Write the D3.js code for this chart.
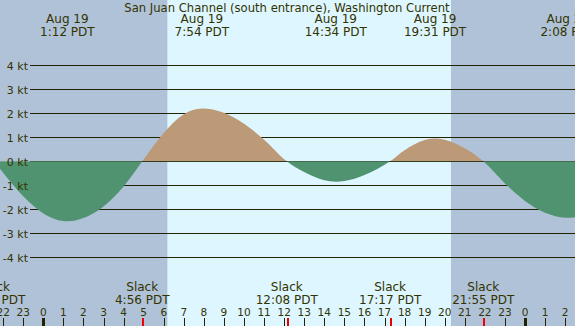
<!DOCTYPE html>
<html>
<head>
<meta charset="utf-8">
<script type="text/javascript" src="https://d3js.org/d3.v7.min.js"></script>
<style>
  body { margin: 0; }
  text { font-family: "DejaVu Sans", sans-serif; fill: #333300; }
</style>
</head>
<body>
<div class="viz"></div>
<script type="text/javascript">

    var title = 'San Juan Channel (south entrance), Washington Current';

    // current readings, hours from midnight Aug 19 (PDT) and knots
    var hours = [-3, -2.45, -2, -1, 0, 1, 1.2, 2, 3, 4, 4.93, 6, 7, 7.9, 9, 10, 11, 12.13, 13, 14, 14.57, 15, 16,
                 17.28, 18, 19, 19.52, 20, 21, 21.92, 23, 24, 25, 26.13, 27];
    var knots = [0.45, 0, -0.48, -1.46, -2.17, -2.49, -2.5, -2.36, -1.88, -1.05, 0, 1.18, 1.96, 2.2, 2.02, 1.56, 0.9, 0,
                 -0.45, -0.79, -0.85, -0.82, -0.57, 0, 0.46, 0.89, 0.95, 0.9, 0.54, 0, -0.92, -1.65, -2.14, -2.35, -2.25];

    // max / min current events
    var peakHours = [1.2, 7.9, 14.57, 19.52, 26.13];
    var peakDates = ['Aug 19', 'Aug 19', 'Aug 19', 'Aug 19', 'Aug 20'];
    var peakTimes = ['1:12 PDT', '7:54 PDT', '14:34 PDT', '19:31 PDT', '2:08 PDT'];

    // slack water events
    var slackHours = [-2.45, 4.93, 12.13, 17.28, 21.92];
    var slackTimes = ['21:33 PDT', '4:56 PDT', '12:08 PDT', '17:17 PDT', '21:55 PDT'];

    var sunrise = 6.18, sunset = 20.31;
    var ktTicks = [4, 3, 2, 1, 0, -1, -2, -3, -4];
    var hourTicks = d3.range(-2, 27);

    var W = 575, H = 326;
    var x = d3.scaleLinear().domain([-2.157, 26.49]).range([0, W]);
    var y = d3.scaleLinear().domain([-4, 4]).range([257.3, 65.3]);

    var svg = d3.select('.viz').append('svg').attr('width', W).attr('height', H);

    // day / night background
    svg.append('rect').attr('width', W).attr('height', H).attr('fill', '#ddf6ff');
    svg.append('rect').attr('x', 0).attr('width', x(sunrise)).attr('height', H).attr('fill', '#afc2d7');
    svg.append('rect').attr('x', x(sunset)).attr('width', W - x(sunset)).attr('height', H).attr('fill', '#afc2d7');

    // grid
    svg.selectAll('.grid').data(ktTicks).enter().append('line')
        .attr('x1', 30).attr('x2', W)
        .attr('y1', function(d) { return Math.round(y(d)) + 0.5; })
        .attr('y2', function(d) { return Math.round(y(d)) + 0.5; })
        .attr('stroke', '#222200').attr('stroke-width', 1);

    // flood / ebb areas
    var pts = hours.map(function(h, i) { return [h, knots[i]]; });
    var area = d3.area().curve(d3.curveMonotoneX)
        .x(function(d) { return x(d[0]); })
        .y0(y(0)).y1(function(d) { return y(d[1]); });

    var defs = svg.append('defs');
    defs.append('clipPath').attr('id', 'above').append('rect')
        .attr('width', W).attr('height', y(0));
    defs.append('clipPath').attr('id', 'below').append('rect')
        .attr('y', y(0)).attr('width', W).attr('height', H - y(0));

    svg.append('path').datum(pts).attr('d', area).attr('fill', '#bc9a78').attr('clip-path', 'url(#above)');
    svg.append('path').datum(pts).attr('d', area).attr('fill', '#4f9370').attr('clip-path', 'url(#below)');

    svg.selectAll('.kt').data(ktTicks).enter().append('text')
        .attr('x', 28).attr('y', function(d) { return y(d) + 4.5; })
        .attr('text-anchor', 'end').style('font-size', '11px')
        .text(function(d) { return d + ' kt'; });

    // title and peak labels
    svg.append('text').attr('x', 287).attr('y', 12).attr('text-anchor', 'middle')
        .style('font-size', '11.6px').text(title);
    var peaks = svg.selectAll('.peak').data(peakHours).enter().append('g');
    peaks.append('text').attr('x', function(d) { return x(d); }).attr('y', 23)
        .attr('text-anchor', 'middle').style('font-size', '12px')
        .text(function(d, i) { return peakDates[i]; });
    peaks.append('text').attr('x', function(d) { return x(d); }).attr('y', 36)
        .attr('text-anchor', 'middle').style('font-size', '12px')
        .text(function(d, i) { return peakTimes[i]; });

    // slack labels
    var slacks = svg.selectAll('.slack').data(slackHours).enter().append('g');
    slacks.append('text').attr('x', function(d) { return x(d); }).attr('y', 291)
        .attr('text-anchor', 'middle').style('font-size', '12px').text('Slack');
    slacks.append('text').attr('x', function(d) { return x(d); }).attr('y', 304)
        .attr('text-anchor', 'middle').style('font-size', '12px')
        .text(function(d, i) { return slackTimes[i]; });

    // hour axis
    svg.selectAll('.hr').data(hourTicks).enter().append('text')
        .attr('x', function(d) { return x(d); }).attr('y', 316)
        .attr('text-anchor', 'middle').style('font-size', '10.5px')
        .text(function(d) { return (d + 24) % 24; });
    // plain hour ticks, skipped where a slack tick sits on top
    svg.selectAll('.tick').data(hourTicks.filter(function(h) {
            return !slackHours.some(function(s) { return Math.abs(s - h) < 0.1; });
        })).enter().append('line')
        .attr('x1', function(d) { return Math.round(x(d)) + 0.5; })
        .attr('x2', function(d) { return Math.round(x(d)) + 0.5; })
        .attr('y1', 318).attr('y2', H)
        .attr('stroke', '#222200')
        .attr('stroke-width', function(d) { return (d % 24 === 0) ? 3 : 1; });
    svg.selectAll('.stick').data(slackHours).enter().append('line')
        .attr('x1', function(d) { return Math.round(x(d)) + 1; })
        .attr('x2', function(d) { return Math.round(x(d)) + 1; })
        .attr('y1', 318).attr('y2', H)
        .attr('stroke', '#ee0000').attr('stroke-width', 2);

</script>
</body>
</html>
